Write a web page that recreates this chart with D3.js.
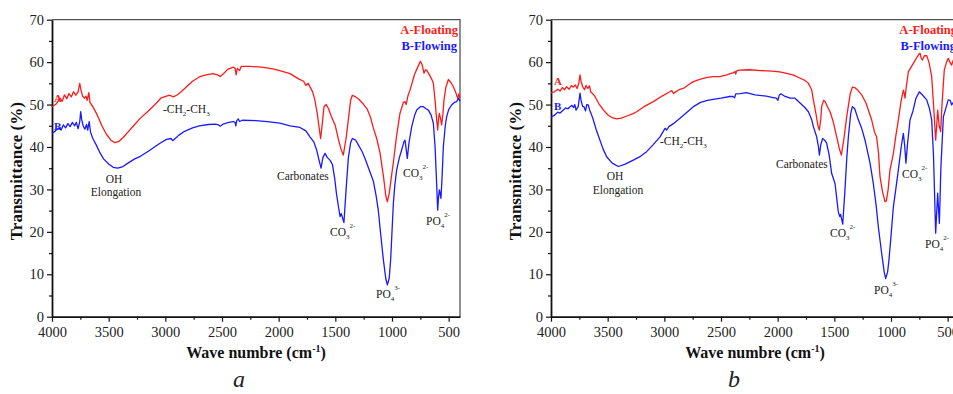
<!DOCTYPE html>
<html>
<head>
<meta charset="utf-8">
<script src="https://cdn.jsdelivr.net/npm/d3@7"></script>
<style>
    html, body { margin: 0; padding: 0; background: #fff; }
    svg { display: block; }
</style>
</head>
<body>
<script>
const fontFamily = "'Liberation Serif', 'Times New Roman', Times, serif";

// ---- data (wave number cm-1, transmittance %) ----
const xMajorTicks = [4000, 3500, 3000, 2500, 2000, 1500, 1000, 500];
const xMinorTicks = [3750, 3250, 2750, 2250, 1750, 1250, 750];
const yMajorTicks = [0, 10, 20, 30, 40, 50, 60, 70];
const yMinorTicks = [5, 15, 25, 35, 45, 55, 65];

const seriesNames = ["A-Floating", "B-Flowing"];
const seriesColors = ["#ff1a1a", "#1a1aff"];

const aFloating = [
    [4000, 49.5], [3960, 50.2], [3930, 51.5], [3910, 50.8], [3890, 52.3], [3870, 51.4], [3850, 52.6],
    [3830, 51.8], [3810, 53.0], [3790, 52.2], [3770, 53.0], [3755, 55.0], [3745, 53.5], [3730, 52.0],
    [3715, 51.5], [3700, 52.0], [3690, 51.0], [3675, 52.8], [3665, 50.5], [3640, 49.5], [3600, 47.5],
    [3560, 45.0], [3520, 43.0], [3480, 41.6], [3445, 41.0], [3410, 41.3], [3370, 42.3], [3320, 43.8],
    [3280, 45.0], [3220, 46.8], [3150, 48.5], [3080, 50.3], [3040, 51.5], [2990, 52.0], [2960, 52.2],
    [2930, 51.8], [2900, 52.2], [2860, 53.0], [2820, 54.0], [2760, 55.5], [2700, 56.5], [2640, 57.0],
    [2580, 57.3], [2540, 57.0], [2515, 56.6], [2490, 57.2], [2450, 58.3], [2400, 58.8], [2385, 58.6],
    [2375, 57.0], [2365, 58.5], [2345, 58.0], [2330, 59.0], [2250, 59.0], [2150, 58.8], [2050, 58.4],
    [1990, 58.0], [1900, 57.3], [1820, 56.0], [1780, 55.5], [1760, 54.5], [1740, 55.0], [1720, 54.0],
    [1700, 53.0], [1680, 51.0], [1660, 48.0], [1645, 45.0], [1630, 42.0], [1615, 45.5], [1600, 49.5],
    [1580, 50.0], [1560, 49.0], [1535, 47.2], [1500, 45.0], [1470, 41.5], [1450, 39.5], [1430, 38.1],
    [1405, 42.0], [1385, 46.5], [1365, 51.0], [1350, 52.2], [1320, 51.8], [1290, 51.2], [1250, 50.0],
    [1220, 49.0], [1190, 47.0], [1165, 44.5], [1135, 42.0], [1105, 38.5], [1075, 33.0], [1055, 28.5],
    [1041, 27.1], [1025, 29.0], [1005, 33.0], [985, 37.0], [960, 42.5], [930, 47.9], [900, 50.5],
    [885, 50.7], [875, 50.0], [860, 52.0], [841, 53.4], [800, 57.2], [770, 59.0], [750, 60.2],
    [735, 59.5], [718, 57.4], [705, 58.2], [694, 58.1], [670, 57.0], [650, 56.0], [635, 55.0],
    [620, 51.0], [606, 46.4], [597, 44.0], [588, 47.0], [582, 47.9], [570, 46.5], [562, 45.2],
    [550, 48.0], [541, 51.1], [525, 54.0], [503, 55.9], [480, 55.2], [459, 54.2], [440, 53.0],
    [420, 51.5], [410, 52.5], [400, 51.5]
];

const aFlowing = [
    [4000, 43.2], [3970, 43.8], [3940, 44.5], [3920, 44.0], [3900, 45.2], [3880, 44.5], [3860, 45.5],
    [3840, 44.8], [3820, 45.8], [3800, 45.0], [3785, 45.8], [3770, 44.3], [3755, 46.0], [3747, 48.3],
    [3738, 46.5], [3725, 45.0], [3710, 44.2], [3695, 45.3], [3685, 44.0], [3672, 46.0], [3660, 43.5],
    [3640, 42.0], [3610, 40.5], [3580, 38.8], [3545, 37.2], [3500, 36.0], [3460, 35.2], [3420, 35.0],
    [3380, 35.3], [3330, 36.2], [3270, 37.2], [3220, 37.8], [3150, 39.0], [3080, 40.3], [3040, 41.0],
    [2990, 41.8], [2950, 42.0], [2935, 41.5], [2920, 41.8], [2880, 42.8], [2830, 43.7], [2760, 44.5],
    [2700, 45.0], [2620, 45.3], [2560, 45.4], [2530, 45.2], [2515, 44.9], [2490, 45.4], [2440, 45.8],
    [2400, 46.0], [2385, 45.8], [2378, 45.0], [2370, 46.2], [2356, 46.6], [2345, 46.0], [2320, 46.3],
    [2200, 46.2], [2100, 46.0], [1990, 45.6], [1900, 45.0], [1812, 44.6], [1760, 43.8], [1724, 42.4],
    [1690, 41.2], [1665, 39.3], [1645, 37.0], [1626, 35.0], [1610, 37.5], [1591, 38.5], [1570, 37.5],
    [1547, 36.9], [1525, 35.8], [1505, 32.5], [1490, 29.0], [1470, 25.5], [1458, 23.6], [1448, 24.3],
    [1424, 22.2], [1405, 30.0], [1385, 37.5], [1365, 41.0], [1350, 42.0], [1320, 41.6], [1297, 40.5],
    [1265, 39.0], [1238, 37.3], [1200, 34.5], [1165, 32.0], [1140, 28.5], [1121, 25.1], [1100, 19.5],
    [1076, 13.4], [1055, 9.0], [1041, 7.5], [1025, 9.0], [1012, 13.4], [1000, 20.0], [988, 26.7],
    [975, 31.0], [959, 34.6], [935, 37.5], [915, 39.3], [895, 41.2], [885, 41.6], [875, 39.5],
    [865, 37.3], [850, 41.0], [826, 44.8], [800, 47.5], [782, 48.7], [750, 49.5], [723, 49.5],
    [700, 49.0], [679, 48.7], [655, 47.5], [635, 45.6], [620, 40.0], [606, 31.4], [597, 25.1],
    [590, 28.0], [582, 29.9], [575, 29.0], [568, 27.9], [558, 33.0], [547, 40.0], [530, 45.0],
    [518, 47.1], [500, 48.8], [474, 49.9], [450, 50.5], [429, 50.7], [415, 51.5], [400, 50.8]
];

const bFloating = [
    [4000, 52.8], [3970, 53.0], [3940, 53.6], [3920, 53.2], [3900, 54.0], [3880, 53.5], [3862, 54.2],
    [3840, 53.6], [3820, 54.5], [3803, 54.1], [3785, 54.6], [3770, 53.8], [3755, 55.0], [3744, 57.0],
    [3735, 55.5], [3720, 54.2], [3705, 53.5], [3690, 54.5], [3675, 53.8], [3660, 54.4], [3650, 53.0],
    [3630, 52.5], [3612, 51.9], [3580, 50.3], [3540, 48.8], [3500, 47.6], [3460, 46.9], [3421, 46.6],
    [3380, 46.8], [3330, 47.3], [3280, 47.8], [3244, 48.3], [3180, 49.5], [3097, 50.7], [3020, 52.0],
    [2960, 52.9], [2935, 53.3], [2918, 52.6], [2900, 53.0], [2870, 53.5], [2833, 53.8], [2790, 54.6],
    [2744, 55.4], [2680, 56.0], [2620, 56.4], [2568, 56.6], [2512, 56.6], [2450, 57.0], [2390, 57.5],
    [2375, 57.8], [2370, 57.2], [2360, 58.0], [2335, 58.1], [2250, 58.2], [2150, 58.0], [2050, 57.9],
    [1982, 57.7], [1930, 57.4], [1865, 57.0], [1800, 56.2], [1760, 55.7], [1729, 55.0], [1700, 53.5],
    [1685, 51.1], [1660, 47.5], [1645, 45.0], [1632, 44.0], [1620, 46.5], [1612, 49.5], [1595, 51.0],
    [1582, 50.7], [1560, 49.5], [1538, 48.3], [1510, 46.0], [1479, 42.4], [1455, 39.5], [1438, 38.1],
    [1415, 42.0], [1391, 47.1], [1360, 52.5], [1341, 54.1], [1320, 54.0], [1290, 53.3], [1259, 52.3],
    [1220, 50.3], [1171, 46.4], [1145, 43.5], [1127, 42.4], [1110, 38.5], [1097, 33.0], [1075, 29.5],
    [1053, 27.1], [1041, 27.3], [1025, 30.0], [1009, 34.6], [990, 37.0], [979, 38.5], [958, 42.5],
    [935, 46.4], [910, 51.0], [891, 53.4], [882, 52.5], [876, 51.5], [866, 54.0], [847, 57.7],
    [803, 59.7], [770, 61.2], [750, 62.0], [744, 62.1], [733, 60.9], [723, 60.5], [705, 61.5],
    [685, 61.5], [665, 60.0], [641, 56.6], [625, 50.0], [606, 41.6], [597, 45.0], [588, 48.7],
    [575, 45.0], [562, 43.6], [550, 50.0], [530, 58.1], [510, 60.0], [495, 60.9], [480, 60.0],
    [465, 59.3], [450, 60.5], [430, 60.0], [400, 60.5]
];

const bFlowing = [
    [4000, 47.0], [3970, 47.5], [3940, 48.2], [3920, 48.0], [3891, 48.7], [3870, 49.2], [3850, 49.0],
    [3832, 49.5], [3815, 49.8], [3800, 49.3], [3790, 50.0], [3779, 48.7], [3760, 49.5], [3744, 52.7],
    [3735, 51.0], [3720, 49.5], [3709, 49.5], [3695, 48.5], [3685, 50.0], [3671, 49.9], [3660, 48.8],
    [3645, 47.8], [3627, 46.4], [3600, 44.0], [3568, 41.6], [3540, 39.5], [3509, 37.7], [3460, 36.2],
    [3406, 35.4], [3350, 35.9], [3274, 36.9], [3210, 37.8], [3156, 38.9], [3100, 40.5], [3038, 42.4],
    [2994, 44.4], [2979, 44.0], [2960, 44.8], [2920, 45.5], [2862, 46.8], [2800, 48.2], [2744, 49.5],
    [2680, 50.5], [2620, 51.0], [2568, 51.2], [2500, 51.5], [2423, 51.9], [2395, 51.9], [2380, 51.6],
    [2370, 52.5], [2330, 52.6], [2277, 52.8], [2200, 52.3], [2100, 52.0], [2030, 51.6], [2011, 51.5],
    [1998, 51.0], [1985, 52.3], [1970, 52.5], [1940, 52.0], [1890, 51.5], [1847, 51.5], [1800, 50.3],
    [1760, 49.3], [1729, 48.3], [1700, 46.5], [1685, 44.8], [1656, 42.4], [1640, 40.0], [1632, 38.1],
    [1620, 40.5], [1603, 42.0], [1585, 41.6], [1568, 40.9], [1545, 38.0], [1524, 33.8], [1494, 31.4],
    [1465, 24.7], [1452, 23.6], [1445, 24.1], [1426, 21.8], [1406, 30.0], [1390, 37.5], [1376, 42.4],
    [1355, 48.0], [1341, 49.5], [1320, 49.0], [1288, 46.4], [1260, 44.5], [1229, 41.6], [1185, 36.2],
    [1156, 31.4], [1130, 26.0], [1112, 21.2], [1082, 14.9], [1060, 10.5], [1047, 9.0], [1030, 10.5],
    [1018, 13.4], [1000, 19.0], [979, 25.9], [955, 30.6], [935, 34.6], [910, 40.0], [891, 43.2],
    [880, 40.5], [868, 36.2], [855, 40.5], [832, 46.4], [806, 48.5], [780, 51.5], [750, 53.0],
    [720, 52.2], [685, 51.1], [660, 49.0], [641, 46.4], [625, 38.0], [606, 19.7], [598, 24.0],
    [588, 29.1], [580, 25.0], [573, 22.0], [560, 35.0], [538, 47.1], [512, 49.5], [495, 51.1],
    [477, 51.0], [465, 49.9], [450, 50.5], [430, 51.0], [400, 51.0]
];

// ---- layout ----
const width = 953;
const height = 394;
const plotTop = 19.7;
const plotBottom = 316.7;
const plotWidth = 408;

const panels = [
    {
        left: 52, caption: "a", captionX: 239,
        series: [aFloating, aFlowing],
        tagA: [54, 102], tagB: [54, 130],
        labels: [
            { x: 114, y: 183, anchor: "middle", parts: [["OH", ""]] },
            { x: 116, y: 196, anchor: "middle", parts: [["Elongation", ""]] },
            { x: 163, y: 113, anchor: "start", parts: [["-CH", ""], ["2", "sub"], ["-CH", ""], ["3", "sub"]] },
            { x: 277, y: 180, anchor: "start", parts: [["Carbonates", ""]] },
            { x: 403, y: 177, anchor: "start", parts: [["CO", ""], ["3", "sub"], ["2-", "sup"]] },
            { x: 330, y: 236, anchor: "start", parts: [["CO", ""], ["3", "sub"], ["2-", "sup"]] },
            { x: 376, y: 298, anchor: "start", parts: [["PO", ""], ["4", "sub"], ["3-", "sup"]] },
            { x: 426, y: 225, anchor: "start", parts: [["PO", ""], ["4", "sub"], ["2-", "sup"]] }
        ]
    },
    {
        left: 551, caption: "b", captionX: 734,
        series: [bFloating, bFlowing],
        tagA: [554, 85], tagB: [554, 110],
        labels: [
            { x: 615, y: 180, anchor: "middle", parts: [["OH", ""]] },
            { x: 618, y: 194, anchor: "middle", parts: [["Elongation", ""]] },
            { x: 660, y: 145, anchor: "start", parts: [["-CH", ""], ["2", "sub"], ["-CH", ""], ["3", "sub"]] },
            { x: 776, y: 168, anchor: "start", parts: [["Carbonates", ""]] },
            { x: 902, y: 178, anchor: "start", parts: [["CO", ""], ["3", "sub"], ["2-", "sup"]] },
            { x: 830, y: 237, anchor: "start", parts: [["CO", ""], ["3", "sub"], ["2-", "sup"]] },
            { x: 874, y: 294, anchor: "start", parts: [["PO", ""], ["4", "sub"], ["3-", "sup"]] },
            { x: 925, y: 248, anchor: "start", parts: [["PO", ""], ["4", "sub"], ["2-", "sup"]] }
        ]
    }
];


function drawFormula(container, label) {
    let text = container.append("text")
        .attr("x", label.x)
        .attr("y", label.y)
        .attr("text-anchor", label.anchor)
        .attr("font-family", fontFamily)
        .attr("font-size", 11.5)
        .attr("fill", "#222");
    let shift = 0;
    label.parts.forEach(part => {
        let target = 0;
        let size = 11.5;
        if (part[1] === "sub") { target = 3; size = 7; }
        if (part[1] === "sup") { target = -8; size = 7; }
        text.append("tspan")
            .attr("dy", target - shift)
            .attr("font-size", size)
            .text(part[0]);
        shift = target;
    });
}


function drawPanel(svg, panel) {
    let g = svg.append("g");
    let x = d3.scaleLinear().domain([4000, 400]).range([panel.left, panel.left + plotWidth]);
    let y = d3.scaleLinear().domain([0, 70]).range([plotBottom, plotTop]);

    // frame (top, right)
    g.append("path")
        .attr("d", `M${panel.left},${plotTop}H${panel.left + plotWidth}V${plotBottom}`)
        .attr("fill", "none")
        .attr("stroke", "#555")
        .attr("stroke-width", 1.3);

    // minor ticks
    g.append("g")
        .attr("transform", `translate(0,${plotBottom})`)
        .call(d3.axisBottom(x).tickValues(xMinorTicks).tickSize(3).tickFormat(""))
        .call(a => a.select(".domain").remove());
    g.append("g")
        .attr("transform", `translate(${panel.left},0)`)
        .call(d3.axisLeft(y).tickValues(yMinorTicks).tickSize(3).tickFormat(""))
        .call(a => a.select(".domain").remove());

    // major axes
    let xAxis = g.append("g")
        .attr("transform", `translate(0,${plotBottom})`)
        .call(d3.axisBottom(x).tickValues(xMajorTicks).tickSize(5).tickSizeOuter(0).tickPadding(5).tickFormat(d3.format("d")));
    let yAxis = g.append("g")
        .attr("transform", `translate(${panel.left},0)`)
        .call(d3.axisLeft(y).tickValues(yMajorTicks).tickSize(5).tickSizeOuter(0).tickPadding(3).tickFormat(d3.format("d")));

    [xAxis, yAxis].forEach(a => {
        a.select(".domain").attr("stroke", "#111").attr("stroke-width", 1.8);
        a.selectAll(".tick text")
            .attr("font-family", fontFamily)
            .attr("font-size", 14.5)
            .attr("fill", "#222");
    });
    g.selectAll(".tick line").attr("stroke", "#111").attr("stroke-width", 1.2);

    // spectra
    let line = d3.line()
        .x(d => x(d[0]))
        .y(d => y(d[1]));
    panel.series.forEach((s, i) => {
        g.append("path")
            .datum(s)
            .attr("fill", "none")
            .attr("stroke", seriesColors[i])
            .attr("stroke-width", 1.3)
            .attr("stroke-linejoin", "round")
            .attr("d", line);
    });

    // axis titles
    g.append("text")
        .attr("transform", `translate(${panel.left - 30},${(plotTop + plotBottom) / 2 + 3}) rotate(-90)`)
        .attr("text-anchor", "middle")
        .attr("font-family", fontFamily)
        .attr("font-weight", "bold")
        .attr("font-size", 17)
        .attr("fill", "#111")
        .text("Transmittance (%)");

    let xTitle = g.append("text")
        .attr("x", panel.left + plotWidth / 2)
        .attr("y", 358)
        .attr("text-anchor", "middle")
        .attr("font-family", fontFamily)
        .attr("font-weight", "bold")
        .attr("font-size", 16)
        .attr("fill", "#111");
    xTitle.append("tspan").text("Wave numbre (cm");
    xTitle.append("tspan").attr("dy", -6).attr("font-size", 10).text("-1");
    xTitle.append("tspan").attr("dy", 6).text(")");

    // legend
    seriesNames.forEach((name, i) => {
        g.append("text")
            .attr("x", panel.left + plotWidth - 2 - i)
            .attr("y", 34 + 16 * i)
            .attr("text-anchor", "end")
            .attr("font-family", fontFamily)
            .attr("font-weight", "bold")
            .attr("font-size", 12.5)
            .attr("fill", seriesColors[i])
            .text(name);
    });

    // series tags
    [["A", panel.tagA], ["B", panel.tagB]].forEach((t, i) => {
        g.append("text")
            .attr("x", t[1][0])
            .attr("y", t[1][1])
            .attr("font-family", fontFamily)
            .attr("font-weight", "bold")
            .attr("font-size", 11)
            .attr("fill", seriesColors[i])
            .text(t[0]);
    });

    // band annotations
    panel.labels.forEach(label => drawFormula(g, label));

    // caption
    g.append("text")
        .attr("x", panel.captionX)
        .attr("y", 387)
        .attr("text-anchor", "middle")
        .attr("font-family", fontFamily)
        .attr("font-style", "italic")
        .attr("font-size", 24)
        .attr("fill", "#222")
        .text(panel.caption);
}


let svg = d3.select("body")
    .append("svg")
    .attr("width", width)
    .attr("height", height);

panels.forEach(p => drawPanel(svg, p));
</script>
</body>
</html>
